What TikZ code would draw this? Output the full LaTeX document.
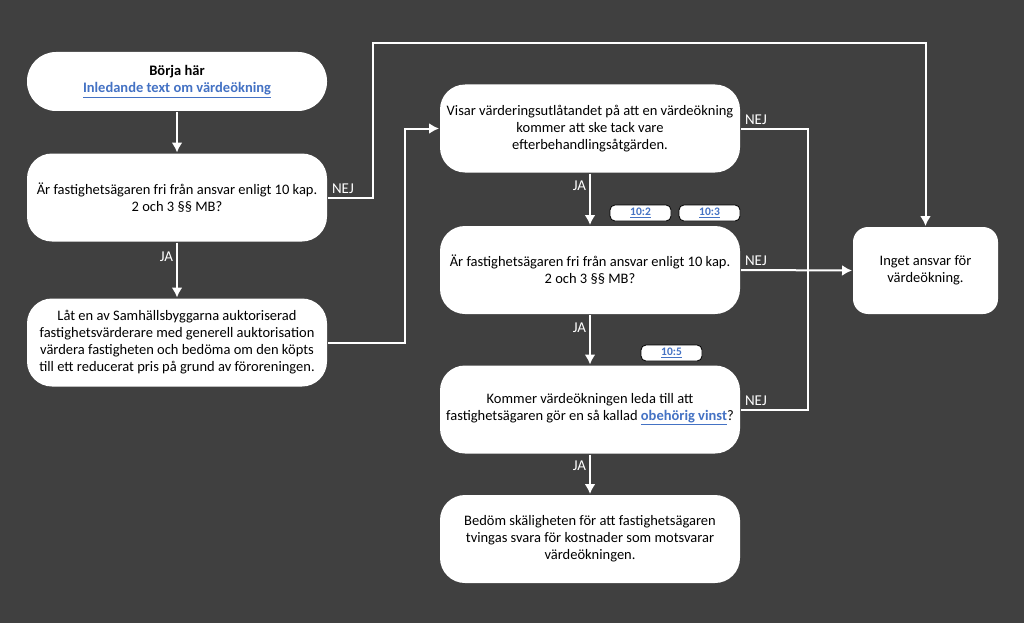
\documentclass[tikz,border=0pt]{standalone}
\usepackage{fontspec}
\setmainfont{Carlito}
\usetikzlibrary{positioning, arrows, arrows.meta}

\definecolor{bg}{HTML}{404040}
\definecolor{linkblue}{HTML}{4472C4}
\newcommand{\lnk}[1]{\textcolor{linkblue}{\textbf{\underline{#1}}}}

\begin{document}
\begin{tikzpicture}[->,>={Latex[length=10pt,width=11pt]},x=1pt,y=-1pt,line width=2pt,draw=white,
                    box/.style={rectangle,rounded corners=25pt,fill=white,draw=none,
                      minimum width=300pt,minimum height=88pt,align=center,text=black,
                      font=\fontsize{14.5}{17}\selectfont},
                    pill/.style={box,minimum height=59pt,rounded corners=29pt},
                    endbox/.style={box,minimum width=145pt,minimum height=87pt,rounded corners=15pt},
                    tag/.style={rectangle,rounded corners=5pt,fill=white,draw=black,line width=0.8pt,
                      minimum width=61pt,minimum height=16pt,inner sep=1pt,
                      font=\fontsize{11.5}{12}\selectfont},
                    lbl/.style={text=white,font=\fontsize{15}{16}\selectfont,inner sep=3pt}]

  \useasboundingbox[fill=bg] (0,0) rectangle (1024,623);

  % left column
  \node[pill] (start) at (177,81.5) {\textbf{Börja här}\\\lnk{Inledande text om värdeökning}};
  \node[box] (q1) at (177,197.5) {Är fastighetsägaren fri från ansvar enligt 10 kap.\\2 och 3 §§ MB?};
  \node[box] (vard) at (177,342.5) {Låt en av Samhällsbyggarna auktoriserad\\fastighetsvärderare med generell auktorisation\\värdera fastigheten och bedöma om den köpts\\till ett reducerat pris på grund av föroreningen.};

  % middle column
  \node[box] (visar) at (590,128.5) {Visar värderingsutlåtandet på att en värdeökning\\kommer att ske tack vare\\efterbehandlingsåtgärden.};
  \node[box] (q3) at (590,270) {Är fastighetsägaren fri från ansvar enligt 10 kap.\\2 och 3 §§ MB?};
  \node[box] (vinst) at (590,409.5) {Kommer värdeökningen leda till att\\fastighetsägaren gör en så kallad \lnk{obehörig vinst}?};
  \node[box] (bedom) at (590,539) {Bedöm skäligheten för att fastighetsägaren\\tvingas svara för kostnader som motsvarar\\värdeökningen.};

  % right
  \node[endbox] (inget) at (925.5,270.5) {Inget ansvar för\\värdeökning.};

  % paragraph tags
  \node[tag] (p102) at (640.5,213) {\lnk{10:2}};
  \node[tag] (p103) at (709.5,213) {\lnk{10:3}};
  \node[tag] (p105) at (671.5,353) {\lnk{10:5}};

  \coordinate (top) at (373,43);
  \coordinate (mid) at (405,0);
  \coordinate (rail) at (808,0);

  \path[every node/.style={lbl}]
   (start) edge (q1)
   (q1) edge node [left,pos=0.26] {JA} (vard)
   (visar) edge node [left,pos=0.24] {JA} (q3)
   (q3) edge node [left,pos=0.26] {JA} (vinst)
   (vinst) edge node [left,pos=0.28] {JA} (bedom)
   (q3.east) edge (inget.west);

  \draw (q1.east) node[lbl,above right] {NEJ} -- (q1.east -| top) -- (top) -| (inget.north);
  \draw (vard.east) -- (vard.east -| mid) |- (visar.west);
  \draw[-] (visar.east) node[lbl,above right] {NEJ} -| (rail |- q3.east);
  \draw[-] (vinst.east) node[lbl,above right] {NEJ} -| (rail |- q3.east);
  \node[lbl,above right] at (q3.east) {NEJ};
\end{tikzpicture}
\end{document}
